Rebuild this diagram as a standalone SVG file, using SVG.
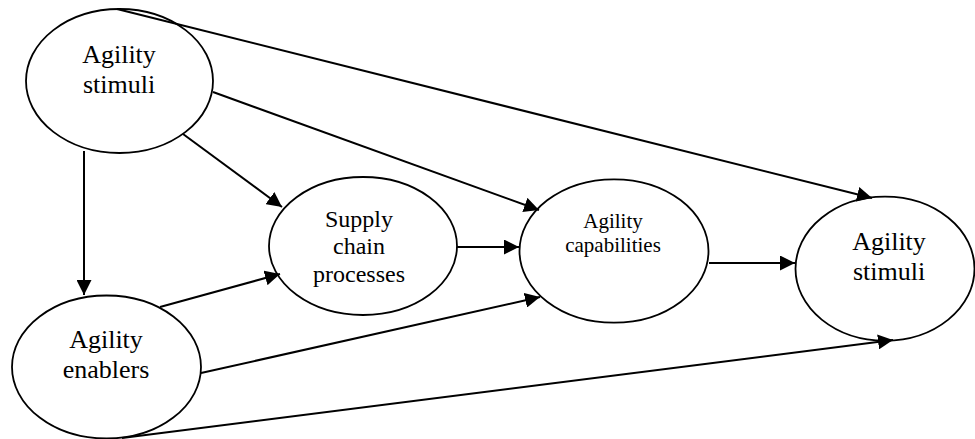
<svg xmlns="http://www.w3.org/2000/svg" width="975" height="439" viewBox="0 0 975 439">
<style>
.node ellipse{fill:#fff;stroke:#000;stroke-width:1.8}
.node text{font-family:"Liberation Serif","Times New Roman",serif;fill:#000;text-anchor:middle}
.t26{font-size:26px}
.t24{font-size:24px}
.t21{font-size:21px}
#edges line{stroke:#000;stroke-width:2;marker-end:url(#ah)}
</style>
<defs>
<marker id="ah" markerUnits="userSpaceOnUse" markerWidth="15" markerHeight="15" refX="15" refY="7.5" orient="auto">
<path d="M0,0 L15,7.5 L0,15 Z" fill="#000"/>
</marker>
</defs>
<rect width="975" height="439" fill="#fff"/>
<g id="nodes">
<g id="n-stimuli-left" class="node">
<ellipse cx="119.5" cy="81" rx="93.5" ry="72"/>
<text class="t26" x="119" y="63">Agility</text>
<text class="t26" x="119" y="93">stimuli</text>
</g>
<g id="n-enablers" class="node">
<ellipse cx="106.5" cy="367" rx="94.5" ry="71.5"/>
<text class="t26" x="106" y="348">Agility</text>
<text class="t26" x="106" y="378">enablers</text>
</g>
<g id="n-supply" class="node">
<ellipse cx="363" cy="246" rx="94" ry="69"/>
<text class="t24" x="359" y="227">Supply</text>
<text class="t24" x="359" y="254">chain</text>
<text class="t24" x="359" y="282">processes</text>
</g>
<g id="n-capabilities" class="node">
<ellipse cx="614" cy="251" rx="94.5" ry="71.7"/>
<text class="t21" x="613" y="228">Agility</text>
<text class="t21" x="613" y="252">capabilities</text>
</g>
<g id="n-stimuli-right" class="node">
<ellipse cx="885" cy="268.7" rx="89.5" ry="72"/>
<text class="t26" x="889" y="250">Agility</text>
<text class="t26" x="889" y="280">stimuli</text>
</g>
</g>
<g id="edges">
<line x1="117" y1="9" x2="872" y2="198"/>
<line x1="213" y1="92" x2="539" y2="210"/>
<line x1="183" y1="134" x2="282" y2="207"/>
<line x1="84" y1="151" x2="84" y2="295"/>
<line x1="160" y1="307" x2="280" y2="274"/>
<line x1="201" y1="373" x2="540" y2="297"/>
<line x1="122" y1="438" x2="893" y2="340"/>
<line x1="457" y1="247" x2="519" y2="247"/>
<line x1="709" y1="263" x2="795" y2="263"/>
</g>
</svg>
